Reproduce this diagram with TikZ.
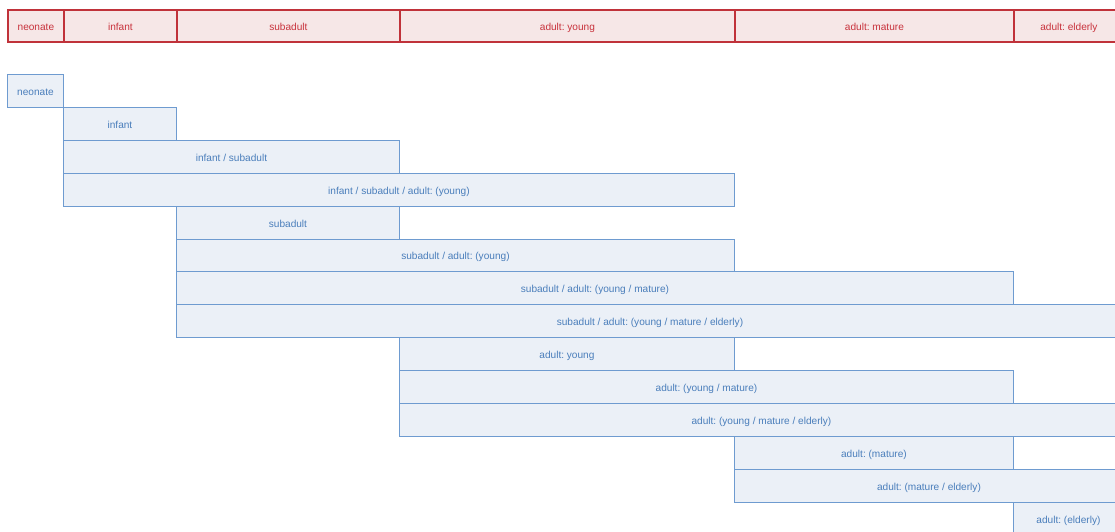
\documentclass[tikz,border=0pt]{standalone}
\usepackage{fontspec}
\setmainfont{Liberation Sans}
\frenchspacing
\definecolor{redline}{HTML}{C0323A}
\definecolor{redfill}{HTML}{F6E7E7}
\definecolor{redtext}{HTML}{C8323C}
\definecolor{blueline}{HTML}{6E9BD0}
\definecolor{bluefill}{HTML}{EBF0F7}
\definecolor{bluetext}{HTML}{4A7EBB}
\tikzset{
  periodbox/.style={draw=redline, fill=redfill, text=redtext, line width=1.8pt, inner sep=0pt, anchor=north west, text height=8.5pt, text depth=0pt, font=\fontsize{10.1}{12}\selectfont\frenchspacing},
  spanbox/.style={draw=blueline, fill=bluefill, text=bluetext, line width=0.9pt, inner sep=0pt, anchor=north west, text height=9pt, text depth=0pt, font=\fontsize{10.1}{12}\selectfont\frenchspacing},
}
\newcommand{\pbox}[5]{\node[periodbox, minimum width=#3pt-#2pt, minimum height=32pt] (#1) at (#2pt,-9pt) {#5};}
\newcommand{\rbox}[6]{\node[spanbox, minimum width=#3pt-#2pt, minimum height=32.9pt] (#1) at (#2pt,-#4pt) {#6};}
\begin{document}
\begin{tikzpicture}
\useasboundingbox (0,0) rectangle (1115pt,-531pt);
\clip (0,0) rectangle (1115pt,-531pt);
\pbox{p1}{7}{63}{}{neonate}
\pbox{p2}{63}{176}{}{infant}
\pbox{p3}{176}{399}{}{subadult}
\pbox{p4}{399}{734}{}{adult: young}
\pbox{p5}{734}{1013}{}{adult: mature}
\pbox{p6}{1013}{1123}{}{adult: elderly}
\rbox{r1}{7}{63}{74}{}{neonate}
\rbox{r2}{63}{176}{106.9}{}{infant}
\rbox{r3}{63}{399}{139.8}{}{infant / subadult}
\rbox{r4}{63}{734}{172.7}{}{infant / subadult / adult: (young)}
\rbox{r5}{176}{399}{205.6}{}{subadult}
\rbox{r6}{176}{734}{238.5}{}{subadult / adult: (young)}
\rbox{r7}{176}{1013}{271.4}{}{subadult / adult: (young / mature)}
\rbox{r8}{176}{1123}{304.3}{}{subadult / adult: (young / mature / elderly)}
\rbox{r9}{399}{734}{337.2}{}{adult: young}
\rbox{r10}{399}{1013}{370.1}{}{adult: (young / mature)}
\rbox{r11}{399}{1123}{403}{}{adult: (young / mature / elderly)}
\rbox{r12}{734}{1013}{435.9}{}{adult: (mature)}
\rbox{r13}{734}{1123}{468.8}{}{adult: (mature / elderly)}
\rbox{r14}{1013}{1123}{501.7}{}{adult: (elderly)}
\end{tikzpicture}
\end{document}
